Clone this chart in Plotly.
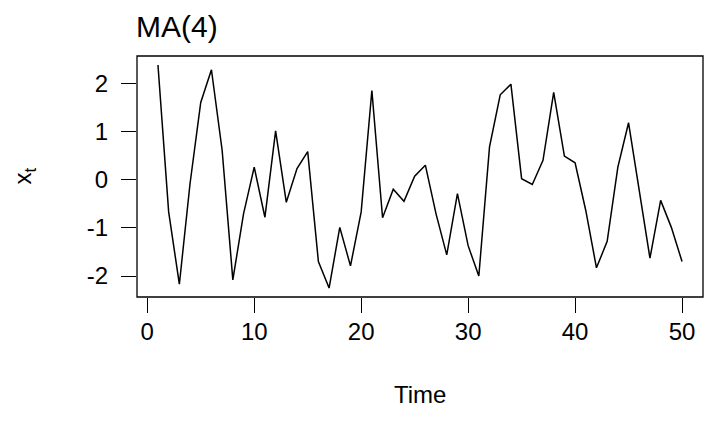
import plotly.graph_objects as go

time = list(range(1, 51))
xt = [2.38, -0.67, -2.17, -0.08, 1.60, 2.28, 0.61, -2.08, -0.71, 0.26,
      -0.78, 1.01, -0.47, 0.23, 0.58, -1.70, -2.25, -0.99, -1.79, -0.67,
      1.85, -0.79, -0.20, -0.45, 0.07, 0.30, -0.71, -1.56, -0.29, -1.37,
      -2.00, 0.68, 1.76, 1.98, 0.02, -0.10, 0.40, 1.81, 0.49, 0.35,
      -0.64, -1.83, -1.28, 0.26, 1.18, -0.22, -1.63, -0.43, -0.99, -1.70]
x_ticks = [0, 10, 20, 30, 40, 50]
y_ticks = [-2, -1, 0, 1, 2]

FONT = "Liberation Sans, Arial, sans-serif"

fig = go.Figure()
fig.add_trace(go.Scatter(x=time, y=xt, mode="lines",
                         line=dict(color="black", width=1.5),
                         showlegend=False, hoverinfo="skip"))

xmin, xmax = min(time), max(time)
ymin, ymax = min(xt), max(xt)
xpad = (xmax - xmin) * 0.04
ypad = (ymax - ymin) * 0.04

fig.update_layout(
    width=704, height=425,
    margin=dict(l=137, r=1, t=56, b=128),
    paper_bgcolor="white", plot_bgcolor="white",
    font=dict(family=FONT, size=24, color="black"),
    xaxis=dict(range=[xmin - xpad, xmax + xpad], tickvals=x_ticks,
               ticks="outside", ticklen=15, tickwidth=1, tickcolor="black",
               showgrid=False, zeroline=False, showline=False,
               ticklabelstandoff=-2,
               tickfont=dict(size=24, family=FONT)),
    yaxis=dict(range=[ymin - ypad, ymax + ypad], tickvals=y_ticks,
               ticktext=[str(v) if v >= 0 else "-" + str(abs(v)) for v in y_ticks],
               ticks="outside", ticklen=15, tickwidth=1, tickcolor="black",
               showgrid=False, zeroline=False, showline=False,
               ticklabelstandoff=8,
               tickfont=dict(size=24, family=FONT)),
    shapes=[dict(type="rect", xref="paper", yref="paper", x0=0, y0=0, x1=1, y1=1,
                 line=dict(color="black", width=1.3))],
    annotations=[
        dict(text="MA(4)", xref="paper", yref="paper", x=0, y=1, xanchor="left",
             yanchor="bottom", yshift=11, xshift=-3, showarrow=False,
             font=dict(size=30, family=FONT)),
        dict(text="Time", xref="paper", yref="paper", x=0.5, y=0, xanchor="center",
             yanchor="top", yshift=-82, showarrow=False,
             font=dict(size=24, family=FONT)),
        dict(text="x<sub>t</sub>", xref="paper", yref="paper", x=0, y=0.5,
             xanchor="center", yanchor="middle", xshift=-113, textangle=-90,
             showarrow=False, font=dict(size=24, family=FONT)),
    ],
)

fig.write_html("out.html")
